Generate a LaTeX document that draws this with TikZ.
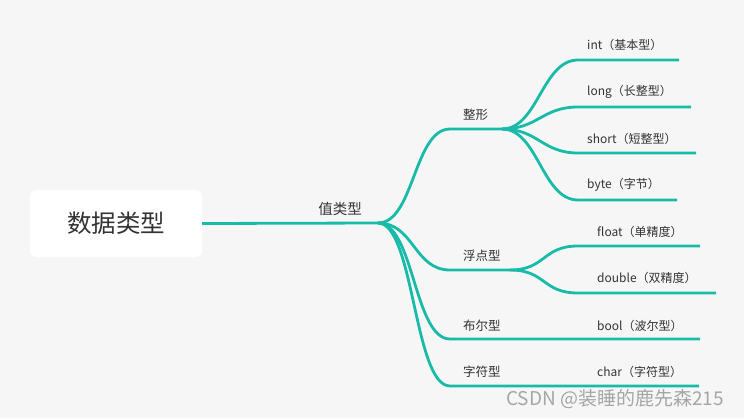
\documentclass[tikz,border=0pt]{standalone}
\usepackage{fontspec}
\setmainfont{Noto Sans CJK SC}
\usetikzlibrary{positioning}
\definecolor{Teal}{HTML}{17BBA8}
\definecolor{Canvas}{HTML}{F6F6F6}
\definecolor{Ink}{HTML}{333333}
\definecolor{Mark}{HTML}{A6A6A6}

\begin{document}
\begin{tikzpicture}[x=1pt, y=-1pt,
    branch/.style={draw=Teal, line width=2.8pt},
    twig/.style={out=0, in=180, distance=36pt},
    cat/.style={text=Ink, font=\fontsize{12.5}{14}\selectfont, inner sep=0pt, anchor=west},
    leaf/.style={text=Ink, font=\fontsize{12}{14}\selectfont, inner sep=0pt, anchor=west}]
    \fill[Canvas] (0,0) rectangle (744,418);
    \useasboundingbox (0,0) rectangle (744,418);

    % root and first level
    \node[fill=white, rounded corners=6pt, minimum width=172pt, minimum height=67pt, text=Ink, font=\fontsize{24.5}{28}\selectfont] (root) at (116,223.5) {数据类型};
    \coordinate (val) at (378,223);
    \node[text=Ink, font=\fontsize{14.5}{16}\selectfont, inner sep=0pt] (valtype) at (340,209) {值类型};

    % second level
    \coordinate (zx0) at (450,129);  \coordinate (zx1) at (502,129);
    \coordinate (fd0) at (450,270);  \coordinate (fd1) at (510,270);
    \coordinate (be0) at (450,339);  \coordinate (be1) at (700,339);
    \coordinate (ch0) at (450,386);  \coordinate (ch1) at (699,386);
    \node[cat] (intcat) at (463,115) {整形};
    \node[cat] (floatcat) at (463,256) {浮点型};
    \node[cat] (boolcat) at (463,326) {布尔型};
    \node[cat] (charcat) at (463,372) {字符型};

    % leaves
    \coordinate (i0) at (578,60);   \coordinate (i1) at (679,60);
    \coordinate (l0) at (578,107);  \coordinate (l1) at (691,107);
    \coordinate (s0) at (578,153);  \coordinate (s1) at (696,153);
    \coordinate (b0) at (578,200);  \coordinate (b1) at (677,200);
    \coordinate (f0) at (578,246);  \coordinate (f1) at (700,246);
    \coordinate (d0) at (578,293);  \coordinate (d1) at (716,293);
    \node[leaf] (intleaf) at (587,45) {int（基本型）};
    \node[leaf] (longleaf) at (587,92) {long（长整型）};
    \node[leaf] (shortleaf) at (587,139) {short（短整型）};
    \node[leaf] (byteleaf) at (587,185) {byte（字节）};
    \node[leaf] (floatleaf) at (597,232) {float（单精度）};
    \node[leaf] (doubleleaf) at (597,278) {double（双精度）};
    \node[leaf] (boolleaf) at (597,326) {bool（波尔型）};
    \node[leaf] (charleaf) at (597,372) {char（字符型）};

    % connectors
    \draw[branch] (root.east) -- (val);
    \draw[branch] (val) to[twig] (zx0) -- (zx1);
    \draw[branch] (val) to[twig] (fd0) -- (fd1);
    \draw[branch] (val) to[twig] (be0) -- (be1);
    \draw[branch] (val) to[twig] (ch0) -- (ch1);
    \draw[branch] (zx1) to[twig] (i0) -- (i1);
    \draw[branch] (zx1) to[twig] (l0) -- (l1);
    \draw[branch] (zx1) to[twig] (s0) -- (s1);
    \draw[branch] (zx1) to[twig] (b0) -- (b1);
    \draw[branch] (fd1) to[twig] (f0) -- (f1);
    \draw[branch] (fd1) to[twig] (d0) -- (d1);

    \node[text=Mark, font=\fontsize{19}{22}\selectfont, inner sep=0pt] (mark) at (615,399) {CSDN @装睡的鹿先森215};
\end{tikzpicture}
\end{document}
